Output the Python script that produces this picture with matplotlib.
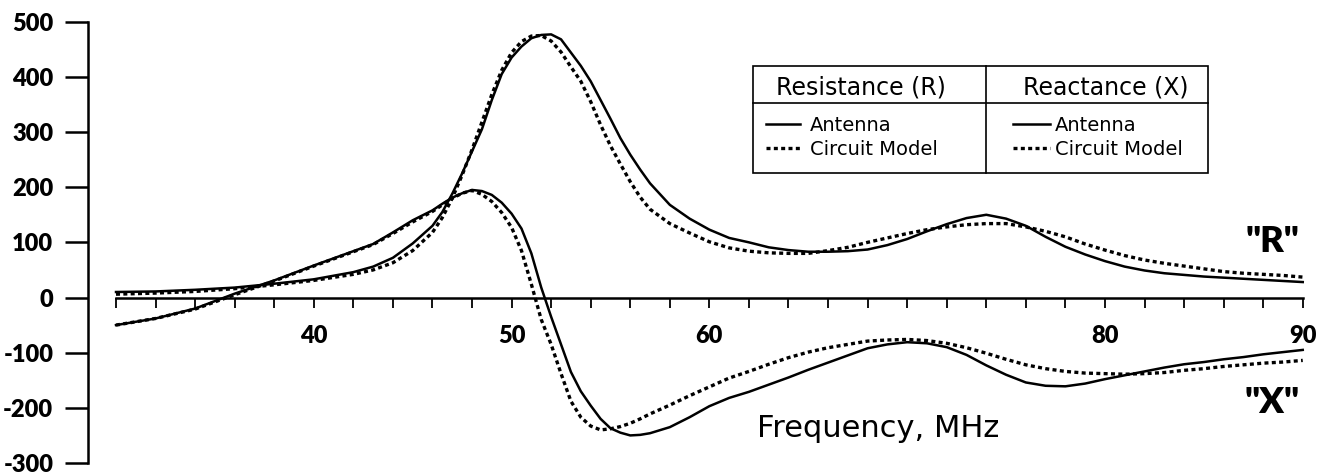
import matplotlib
matplotlib.use("Agg")
import matplotlib.pyplot as plt
from matplotlib.lines import Line2D
from matplotlib.patches import Rectangle

# frequency grid (MHz), denser around the resonance
freq = [30, 32, 34, 36, 38, 40, 42, 43, 44, 45,
        46, 46.5, 47, 47.5, 48, 48.5, 49, 49.5, 50, 50.5,
        51, 51.5, 52, 52.5, 53, 53.5, 54, 54.5, 55, 55.5,
        56, 56.5, 57, 58, 59, 60, 61, 62, 63, 64,
        65, 66, 67, 68, 69, 70, 71, 72, 73, 74,
        75, 76, 77, 78, 79, 80, 81, 82, 83, 84,
        85, 86, 87, 88, 89, 90]

# resistance R, ohms
r_antenna = [10, 11, 14, 18, 25, 33, 46, 56, 72, 98,
             130, 155, 188, 225, 265, 305, 358, 405, 435, 455,
             470, 476, 477, 468, 444, 420, 392, 358, 324, 289,
             259, 232, 207, 168, 143, 123, 108, 100, 91, 86,
             83, 83, 84, 87, 95, 106, 120, 133, 144, 150,
             143, 130, 110, 92, 78, 66, 56, 49, 44, 41,
             38, 36, 34, 32, 30, 28]
r_model = [6, 8, 11, 16, 23, 31, 42, 50, 63, 85,
           118, 145, 180, 222, 268, 318, 368, 412, 444, 464,
           474, 475, 465, 445, 418, 392, 355, 313, 275, 242,
           210, 182, 160, 134, 117, 101, 90, 84, 81, 80,
           80, 85, 91, 100, 108, 116, 123, 128, 132, 134,
           134, 128, 120, 110, 97, 86, 76, 68, 62, 57,
           52, 47, 44, 42, 40, 37]

# reactance X, ohms
x_antenna = [-50, -38, -20, 7, 31, 58, 84, 97, 118, 140,
             158, 170, 181, 189, 195, 193, 186, 172, 152, 125,
             80, 18, -35, -85, -135, -170, -196, -220, -237, -245,
             -250, -249, -246, -235, -217, -197, -182, -171, -158, -145,
             -131, -118, -105, -92, -85, -81, -83, -90, -104, -123,
             -140, -154, -160, -161, -156, -148, -141, -134, -127, -121,
             -117, -112, -108, -103, -99, -95]
x_model = [-50, -38, -21, 5, 30, 57, 83, 96, 116, 137,
           156, 168, 180, 189, 194, 187, 174, 154, 127, 85,
           24, -40, -85, -138, -188, -217, -233, -240, -238, -234,
           -228, -220, -211, -195, -178, -162, -146, -134, -121, -109,
           -99, -91, -85, -79, -77, -76, -78, -83, -91, -101,
           -112, -122, -129, -134, -137, -138, -139, -138, -136, -132,
           -129, -125, -122, -119, -117, -114]

y_ticks = [-300, -200, -100, 0, 100, 200, 300, 400, 500]
x_ticks = list(range(30, 91, 2))
x_labeled = [40, 50, 60, 80, 90]

W, H = 1330, 476
DOTS = (0, (1.2, 1.0))


def fx(px):
    return px / W


def fy(py):
    return 1 - py / H


fig = plt.figure(figsize=(W / 100, H / 100), dpi=100)
ax = fig.add_axes([fx(88), fy(463), (W - 88) / W, (463 - 21.7) / H])
ax.set_xlim(28.584, 91.378)
ax.set_ylim(-300, 500)

ax.plot(freq, r_antenna, color="black", lw=1.8)
ax.plot(freq, r_model, color="black", lw=2.4, linestyle=DOTS, dash_capstyle="butt")
ax.plot(freq, x_antenna, color="black", lw=1.8)
ax.plot(freq, x_model, color="black", lw=2.4, linestyle=DOTS, dash_capstyle="butt")

for s in ["top", "right"]:
    ax.spines[s].set_visible(False)
ax.spines["left"].set_bounds(-300, 500)
ax.spines["left"].set_linewidth(1.8)
ax.spines["bottom"].set_position(("data", 0))
ax.spines["bottom"].set_bounds(30, 90)
ax.spines["bottom"].set_linewidth(1.8)

bold = dict(family="Lato", weight="heavy", size=17)
ax.set_yticks(y_ticks)
ax.set_yticklabels([str(v) for v in y_ticks], **bold)
ax.tick_params(axis="y", direction="out", length=16.5, width=1.8, pad=8.5)
ax.set_xticks(x_ticks)
ax.set_xticklabels([str(v) if v in x_labeled else "" for v in x_ticks], **bold)
ax.tick_params(axis="x", direction="out", length=7.5, width=1.3, pad=12)

# curve labels
fig.text(fx(1272), fy(252), '"R"', ha="center", va="baseline", family="Lato", weight="heavy", size=26)
fig.text(fx(1272), fy(413), '"X"', ha="center", va="baseline", family="Lato", weight="heavy", size=26)
fig.text(fx(757), fy(437), "Frequency, MHz", ha="left", va="baseline", family="DejaVu Sans", size=22)

# legend drawn as a small table
fig.add_artist(Rectangle((fx(753), fy(173)), (1208 - 753) / W, (173 - 66) / H,
                         transform=fig.transFigure, fill=False, lw=1.2, color="black"))
fig.add_artist(Line2D([fx(986), fx(986)], [fy(66), fy(173)], transform=fig.transFigure, lw=1.2, color="black"))
fig.add_artist(Line2D([fx(753), fx(1208)], [fy(103), fy(103)], transform=fig.transFigure, lw=1.2, color="black"))

fig.text(fx(861), fy(95), "Resistance (R)", ha="center", va="baseline", family="DejaVu Sans", size=17)
fig.text(fx(1106), fy(95), "Reactance (X)", ha="center", va="baseline", family="DejaVu Sans", size=17)

for x0, x1, xt in [(766, 800, 810), (1013, 1050, 1055)]:
    fig.add_artist(Line2D([fx(x0), fx(x1)], [fy(124), fy(124)], transform=fig.transFigure,
                          lw=1.8, color="black"))
    fig.add_artist(Line2D([fx(x0), fx(x1)], [fy(148), fy(148)], transform=fig.transFigure,
                          lw=2.4, color="black", linestyle=DOTS, dash_capstyle="butt"))
    fig.text(fx(xt), fy(131), "Antenna", ha="left", va="baseline", family="DejaVu Sans", size=14)
    fig.text(fx(xt), fy(155), "Circuit Model", ha="left", va="baseline", family="DejaVu Sans", size=14)

fig.savefig("out.png", dpi=100)
